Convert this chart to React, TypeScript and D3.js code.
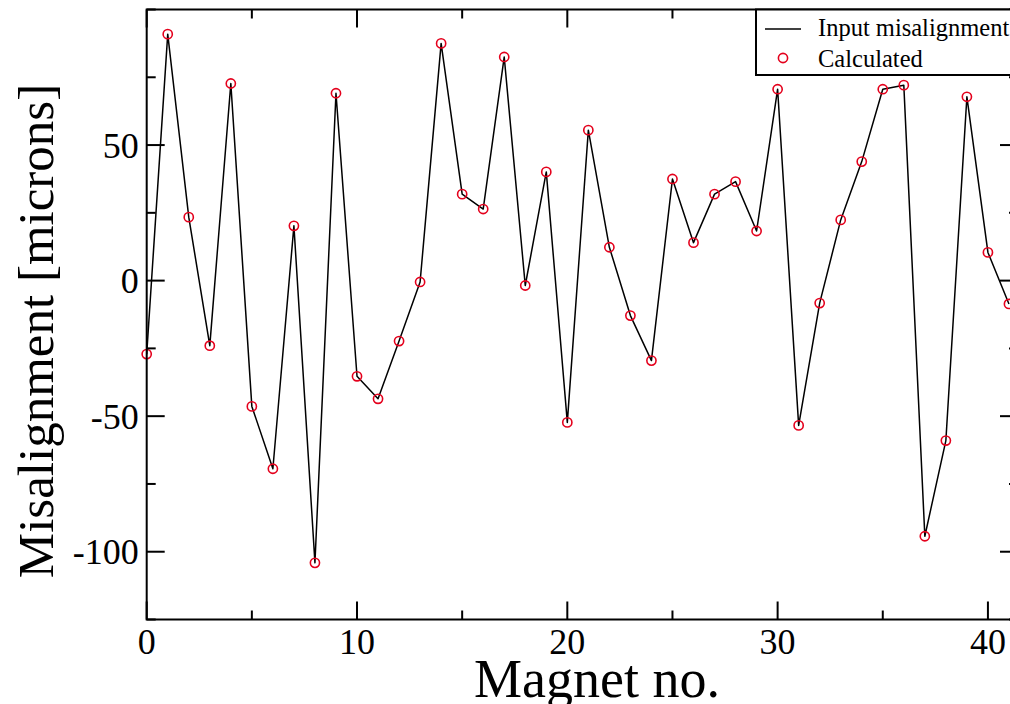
import React from "react";
import * as d3 from "d3";

const magnetNo: number[] = d3.range(0, 42);
const misalignment: number[] = [
  -27.1, 90.9, 23.4, -24.0, 72.7, -46.4, -69.4, 20.2, -104.1, 69.1,
  -35.3, -43.6, -22.3, -0.5, 87.5, 31.9, 26.4, 82.5, -1.8, 40.1,
  -52.3, 55.5, 12.3, -12.9, -29.5, 37.5, 14.0, 31.9, 36.5, 18.3,
  70.6, -53.4, -8.3, 22.4, 43.9, 70.6, 72.1, -94.3, -59.0, 67.8,
  10.4, -8.6,
];
const calculated: number[] = misalignment.slice();
const xMajorTicks = [0, 10, 20, 30, 40];
const xMinorTicks = [5, 15, 25, 35];
const yMajorTicks = [-100, -50, 0, 50];
const yMinorTicks = [-125, -75, -25, 25, 75, 100];
const legendLabels = ["Input misalignment", "Calculated"];
const xTitle = "Magnet no.";
const yTitle = "Misalignment [microns]";

const W = 1010;
const H = 704;
const left = 146.7;
const right = 1018;
const top = 9.5;
const bottom = 619.5;
const font = "'Liberation Serif', 'Times New Roman', serif";

export default function App() {
  const x = d3.scaleLinear().domain([0, 41.43]).range([left, right]);
  const y = d3.scaleLinear().domain([-125, 100]).range([bottom, top]);
  const line = d3
    .line<number>()
    .x((_, i) => x(magnetNo[i]))
    .y((d) => y(d));
  const major = 18;
  const minor = 9;
  return (
    <svg
      width={W}
      height={H}
      style={{ position: "absolute", left: 0, top: 0, background: "#fff" }}
    >
      <rect x={0} y={0} width={W} height={H} fill="#fff" />
      <path
        d={line(misalignment) || ""}
        fill="none"
        stroke="#000"
        strokeWidth={1.5}
        strokeLinejoin="round"
      />
      {calculated.map((v, i) => (
        <circle
          key={i}
          cx={x(magnetNo[i])}
          cy={y(v)}
          r={4.6}
          fill="none"
          stroke="#e4001c"
          strokeWidth={1.6}
        />
      ))}
      <rect
        x={left}
        y={top}
        width={right - left}
        height={bottom - top}
        fill="none"
        stroke="#000"
        strokeWidth={2}
      />
      {xMajorTicks.map((t) => (
        <g key={"xM" + t}>
          <line x1={x(t)} x2={x(t)} y1={bottom} y2={bottom - major} stroke="#000" strokeWidth={2} />
          <line x1={x(t)} x2={x(t)} y1={top} y2={top + major} stroke="#000" strokeWidth={2} />
          <text
            x={x(t)}
            y={bottom + 34}
            textAnchor="middle"
            fontFamily={font}
            fontSize={36}
            fill="#000"
          >
            {t}
          </text>
        </g>
      ))}
      {xMinorTicks.map((t) => (
        <g key={"xm" + t}>
          <line x1={x(t)} x2={x(t)} y1={bottom} y2={bottom - minor} stroke="#000" strokeWidth={2} />
          <line x1={x(t)} x2={x(t)} y1={top} y2={top + minor} stroke="#000" strokeWidth={2} />
        </g>
      ))}
      {yMajorTicks.map((t) => (
        <g key={"yM" + t}>
          <line x1={left} x2={left + major} y1={y(t)} y2={y(t)} stroke="#000" strokeWidth={2} />
          <line x1={right} x2={right - major} y1={y(t)} y2={y(t)} stroke="#000" strokeWidth={2} />
          <text
            x={left - 8}
            y={y(t) + 12.5}
            textAnchor="end"
            fontFamily={font}
            fontSize={36}
            fill="#000"
          >
            {t}
          </text>
        </g>
      ))}
      {yMinorTicks.map((t) => (
        <g key={"ym" + t}>
          <line x1={left} x2={left + minor} y1={y(t)} y2={y(t)} stroke="#000" strokeWidth={2} />
          <line x1={right} x2={right - minor} y1={y(t)} y2={y(t)} stroke="#000" strokeWidth={2} />
        </g>
      ))}
      <text
        x={597}
        y={697}
        textAnchor="middle"
        fontFamily={font}
        fontSize={54}
        fill="#000"
      >
        {xTitle}
      </text>
      <text
        transform={`translate(53,331) rotate(-90)`}
        textAnchor="middle"
        fontFamily={font}
        fontSize={51}
        fill="#000"
      >
        {yTitle}
      </text>
      <rect x={756} y={top} width={280} height={65.5} fill="#fff" stroke="#000" strokeWidth={2} />
      <line x1={765} x2={801} y1={29} y2={29} stroke="#000" strokeWidth={1.5} />
      <text x={818} y={36} fontFamily={font} fontSize={24.5} fill="#000">
        {legendLabels[0]}
      </text>
      <circle cx={783} cy={58} r={4.6} fill="none" stroke="#e4001c" strokeWidth={1.6} />
      <text x={818} y={66.5} fontFamily={font} fontSize={24.5} fill="#000">
        {legendLabels[1]}
      </text>
    </svg>
  );
}
